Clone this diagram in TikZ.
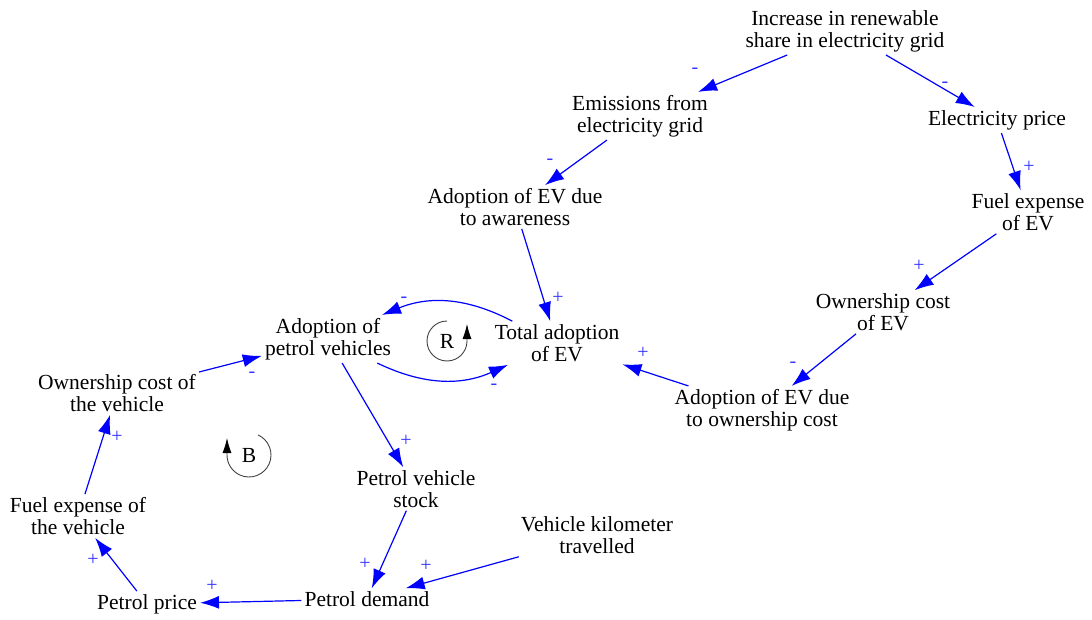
\documentclass[tikz,border=0pt]{standalone}
\usepackage{fontspec}
\setmainfont{Liberation Serif}
\usetikzlibrary{arrows.meta}

\begin{document}
\begin{tikzpicture}[x=1pt,y=1pt,
  var/.style={align=center,inner sep=3pt,font=\fontsize{21.5}{22}\selectfont},
  link/.style={draw=blue,line width=1.2pt,-{Latex[length=19pt,width=13pt]}},
  pol/.style={text=blue!80!white,inner sep=0pt,font=\fontsize{20}{20}\selectfont},
  loopsym/.style={draw=black!75,line width=0.9pt,-{Latex[length=15pt,width=9pt,color=black]}}]

\useasboundingbox (0,0) rectangle (1092,-620);

% variables
\node[var] (inc)    at (845,-31)  {Increase in renewable\\share in electricity grid};
\node[var] (emis)   at (640,-116) {Emissions from\\electricity grid};
\node[var] (elec)   at (997,-120) {Electricity price};
\node[var] (aware)  at (515,-207) {Adoption of EV due\\to awareness};
\node[var] (fuelev) at (1028,-212) {Fuel expense\\of EV};
\node[var] (ownev)  at (883,-312) {Ownership cost\\of EV};
\node[var] (total)  at (557,-343) {Total adoption\\of EV};
\node[var] (adoptp) at (328,-339) {Adoption of\\petrol vehicles};
\node[var] (ownv)   at (117,-393) {Ownership cost of\\the vehicle};
\node[var] (ownc)   at (762,-410) {Adoption of EV due\\to ownership cost};
\node[var] (stock)  at (416,-489) {Petrol vehicle\\stock};
\node[var] (fuelv)  at (78,-516)  {Fuel expense of\\the vehicle};
\node[var] (vkt)    at (597,-535) {Vehicle kilometer\\travelled};
\node[var] (price)  at (147,-604) {Petrol price};
\node[var] (demand) at (367,-599) {Petrol demand};

% causal links
\foreach \a/\b in {inc/emis, inc/elec, emis/aware, elec/fuelev, fuelev/ownev,
  ownev/ownc, ownc/total, aware/total, ownv/adoptp, adoptp/stock,
  stock/demand, vkt/demand, demand/price, price/fuelv, fuelv/ownv}
  \draw[link] (\a) -- (\b);
\draw[link] (total) to[bend right=25] (adoptp);
\draw[link] (adoptp) to[bend right=25] (total);

% polarities
\foreach \n/\x/\y/\s in {1/695/71/-, 2/945/85/-, 3/550/162/-, 4/1029/167/+,
  5/919/266/+, 6/793/365/-, 7/643/353/+, 8/558/298/+, 9/404/300/-,
  10/494/387/-, 11/252/375/-, 12/406/441/+, 13/365/564/+, 14/426/566/+,
  15/212/586/+, 16/93/560/+, 17/117/437/+}
  \node[pol] (s\n) at (\x,-\y) {\s};

% loop markers
\node[var] (R) at (447,-341) {R};
\draw[loopsym] ([shift={(90:20)}]R.center)
  arc[start angle=90,end angle=360,radius=20] -- ++(0,17);
\node[var] (B) at (249,-455) {B};
\draw[loopsym] ([shift={(66:22)}]B.center)
  arc[start angle=66,end angle=-180,radius=22] -- ++(0,17);
\end{tikzpicture}
\end{document}
